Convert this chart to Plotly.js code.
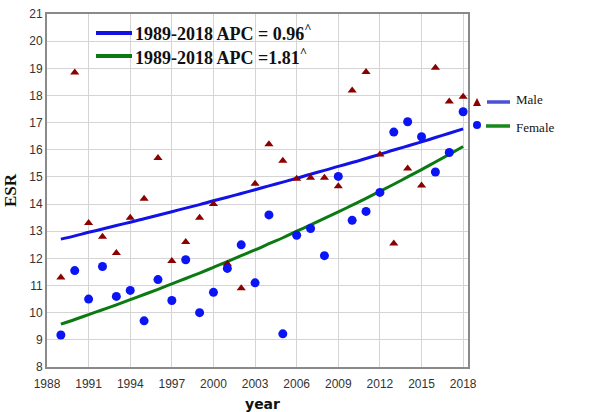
<!DOCTYPE html>
<html>
<head>
<meta charset="utf-8">
<script src="https://cdn.plot.ly/plotly-3.0.1.min.js"></script>
<style>html,body{margin:0;padding:0;background:#fff;}#chart{width:595px;height:412px;}</style>
</head>
<body>
<div id="chart"></div>
<script>
const years = [1989,1990,1991,1992,1993,1994,1995,1996,1997,1998,1999,2000,2001,2002,2003,2004,2005,2006,2007,2008,2009,2010,2011,2012,2013,2014,2015,2016,2017,2018];
const maleESR = [11.3,18.85,13.3,12.8,12.2,13.5,14.2,15.7,11.9,12.6,13.5,14.0,11.8,10.9,14.75,16.2,15.6,14.93,14.97,14.97,14.66,18.18,18.86,15.83,12.55,15.31,14.68,19.02,17.78,17.95];
const femaleESR = [9.18,11.55,10.5,11.7,10.6,10.82,9.7,11.22,10.45,11.95,10.0,10.75,11.63,12.5,11.1,13.6,9.22,12.85,13.1,12.1,15.02,13.4,13.73,14.43,16.65,17.03,16.48,15.18,15.9,17.4];
const maleFit = [12.71,12.83,12.96,13.08,13.21,13.33,13.46,13.59,13.72,13.85,13.98,14.12,14.25,14.39,14.53,14.67,14.81,14.95,15.10,15.24,15.39,15.53,15.68,15.83,15.99,16.14,16.29,16.45,16.61,16.77];
const femaleFit = [9.58,9.75,9.93,10.11,10.29,10.48,10.67,10.86,11.06,11.26,11.46,11.67,11.88,12.10,12.31,12.54,12.76,13.00,13.23,13.47,13.71,13.96,14.21,14.47,14.73,15.00,15.27,15.55,15.83,16.12];
const fitLabels = ["1989-2018 APC = 0.96<sup>^</sup>", "1989-2018 APC =1.81<sup>^</sup>"];
const seriesNames = ["Male", "Female"];
const xTicks = [1988,1991,1994,1997,2000,2003,2006,2009,2012,2015,2018];
const yTicks = [8,9,10,11,12,13,14,15,16,17,18,19,20,21];

const maleColor = '#8b0000', femaleColor = '#0a14f5';
const maleLine = '#1212e6', femaleLine = '#0b7a12';

const traces = [
  {x: years, y: maleFit, mode: 'lines', line: {color: maleLine, width: 3, shape: 'spline'}, showlegend: false},
  {x: years, y: femaleFit, mode: 'lines', line: {color: femaleLine, width: 3, shape: 'spline'}, showlegend: false},
  {x: years, y: maleESR, mode: 'markers', marker: {symbol: 'triangle-up', size: 8, color: maleColor}, name: seriesNames[0], showlegend: false},
  {x: years, y: femaleESR, mode: 'markers', marker: {symbol: 'circle', size: 9, color: femaleColor}, name: seriesNames[1], showlegend: false}
];

const W = 421, H = 353, L = 47, T = 14;
const px = v => (v - L) / W;
const py = v => (T + H - v) / H;

const layout = {
  width: 595, height: 412,
  margin: {l: 47, r: 127, t: 14, b: 45},
  paper_bgcolor: '#fff', plot_bgcolor: '#fff',
  showlegend: false,
  font: {family: 'DejaVu Sans, sans-serif', color: '#222'},
  xaxis: {
    range: [1988, 2018.35], tickvals: xTicks, ticktext: xTicks.map(String),
    showgrid: true, gridcolor: '#d4d4d4', gridwidth: 1,
    zeroline: false, showline: true, linecolor: '#8a8a8a', linewidth: 2, mirror: true,
    ticks: '', ticklabelstandoff: 5,
    tickfont: {family: 'Liberation Sans Narrow, Liberation Sans, sans-serif', size: 12, color: '#333'}
  },
  yaxis: {
    range: [8, 21], tickvals: yTicks, ticktext: yTicks.map(String),
    showgrid: true, gridcolor: '#d4d4d4', gridwidth: 1,
    zeroline: false, showline: true, linecolor: '#8a8a8a', linewidth: 2, mirror: true,
    ticks: '', tickfont: {family: 'Liberation Sans Narrow, Liberation Sans, sans-serif', size: 12, color: '#333'},
    title: {text: 'ESR', font: {family: 'Liberation Serif, serif', size: 17, color: '#111', weight: 'bold'}, standoff: 8}
  },
  shapes: [
    {type: 'rect', xref: 'paper', yref: 'paper', x0: px(57), x1: px(335), y0: py(68), y1: py(17), fillcolor: '#fff', line: {width: 0}, layer: 'between'},
    {type: 'line', xref: 'paper', yref: 'paper', x0: px(96), x1: px(132), y0: py(33), y1: py(33), line: {color: maleLine, width: 4}},
    {type: 'line', xref: 'paper', yref: 'paper', x0: px(96), x1: px(132), y0: py(56), y1: py(56), line: {color: femaleLine, width: 4}},
    {type: 'path', xref: 'paper', yref: 'paper', path: `M ${px(473)},${py(106)} L ${px(481)},${py(106)} L ${px(477)},${py(98)} Z`, fillcolor: maleColor, line: {width: 0}},
    {type: 'line', xref: 'paper', yref: 'paper', x0: px(487), x1: px(510), y0: py(102), y1: py(102), line: {color: '#4a50d8', width: 3.5}},
    {type: 'circle', xref: 'paper', yref: 'paper', x0: px(473), x1: px(481), y0: py(129), y1: py(121), fillcolor: femaleColor, line: {width: 0}},
    {type: 'line', xref: 'paper', yref: 'paper', x0: px(486), x1: px(510), y0: py(126), y1: py(126), line: {color: '#16881c', width: 3.5}}
  ],
  annotations: [
    {xref: 'paper', yref: 'paper', x: px(133), y: py(33), xanchor: 'left', yanchor: 'middle', showarrow: false, text: fitLabels[0], font: {family: 'Liberation Serif, serif', size: 18, color: '#111', weight: 'bold'}},
    {xref: 'paper', yref: 'paper', x: px(133), y: py(56), xanchor: 'left', yanchor: 'middle', showarrow: false, text: fitLabels[1], font: {family: 'Liberation Serif, serif', size: 18, color: '#111', weight: 'bold'}},
    {xref: 'paper', yref: 'paper', x: px(514), y: py(100), xanchor: 'left', yanchor: 'middle', showarrow: false, text: seriesNames[0], font: {family: 'Liberation Serif, serif', size: 13, color: '#111'}},
    {xref: 'paper', yref: 'paper', x: px(514), y: py(127), xanchor: 'left', yanchor: 'middle', showarrow: false, text: seriesNames[1], font: {family: 'Liberation Serif, serif', size: 13, color: '#111'}},
    {xref: 'paper', yref: 'paper', x: px(262), y: py(394), xanchor: 'center', yanchor: 'top', showarrow: false, text: 'year', font: {family: 'DejaVu Sans, sans-serif', size: 14, color: '#111', weight: 'bold'}}
  ]
};

Plotly.newPlot('chart', traces, layout, {displayModeBar: false, staticPlot: true});
</script>
</body>
</html>
